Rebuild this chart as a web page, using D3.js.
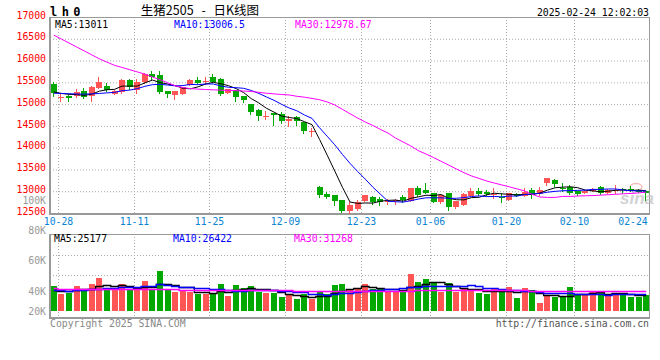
<!DOCTYPE html>
<html>
<head>
<meta charset="utf-8">
<script src="https://cdn.jsdelivr.net/npm/d3@7"></script>
<style>
  body { margin: 0; background: #fff; }
  svg { display: block; }
  text { font-family: "DejaVu Sans Mono", monospace; font-size: 9.8px; }
</style>
</head>
<body>
<svg id="chart" width="660" height="360"></svg>
<script>
// trading days shown on the chart
const dates = [
  "10-28","10-29","10-30","10-31","11-01","11-04","11-05","11-06","11-07","11-08",
  "11-11","11-12","11-13","11-14","11-15","11-18","11-19","11-20","11-21","11-22",
  "11-25","11-26","11-27","11-28","11-29","12-02","12-03","12-04","12-05","12-06",
  "12-09","12-10","12-11","12-12","12-13","12-16","12-17","12-18","12-19","12-20",
  "12-23","12-24","12-25","12-26","12-27","12-30","12-31","01-02","01-03","01-06",
  "01-07","01-08","01-09","01-10","01-13","01-14","01-15","01-16","01-17","01-20",
  "01-21","01-22","01-23","01-24","01-27","02-05","02-06","02-07","02-10","02-11",
  "02-12","02-13","02-14","02-17","02-18","02-19","02-20","02-21","02-24"
]

const opens = [
  15462,15150,15192,15177,15308,15177,15369,15423,15246,15269,
  15554,15323,15500,15692,15669,15292,15215,15231,15446,15562,
  15530,15615,15577,15246,15323,15177,15000,14870,14725,14785,
  14770,14610,14693,14600,14380,13093,12939,12908,12800,12540,
  12601,12770,12870,12832,12765,12780,12862,12785,13077,13039,
  12962,12755,12962,12631,12693,12908,13016,12978,12935,12870,
  12808,12939,12885,13039,12939,13170,13247,13070,13093,13000,
  12962,13016,13093,12978,13010,13045,13062,13039,13010
]
const highs = [
  15500,15231,15215,15346,15362,15408,15631,15485,15330,15577,
  15577,15577,15715,15769,15769,15308,15310,15400,15577,15615,
  15615,15692,15590,15346,15323,15177,15000,14885,14846,14785,
  14808,14731,14731,14600,14462,13116,12985,12924,12800,12755,
  12808,12924,12885,12862,12832,12832,12908,13080,13116,13193,
  12962,12920,12970,12780,12950,13077,13077,13039,13077,12962,
  12970,12950,13077,13077,13093,13308,13270,13193,13154,13010,
  13020,13070,13116,13045,13139,13077,13116,13050,13016
]
const lows = [
  15177,15062,15062,15170,15131,15077,15369,15292,15230,15260,
  15346,15246,15490,15577,15246,15154,15116,15231,15446,15477,
  15462,15500,15215,15246,15062,15039,14770,14631,14669,14516,
  14577,14500,14516,14346,14270,12862,12846,12693,12524,12500,
  12578,12770,12716,12678,12709,12709,12755,12770,12885,12962,
  12755,12740,12578,12620,12680,12900,12924,12908,12847,12755,
  12800,12880,12880,12847,12924,13154,13116,13016,12939,12915,
  12955,13010,12939,12970,12962,12962,13000,12980,12808
]
const closes = [
  15246,15160,15154,15269,15177,15385,15500,15323,15308,15554,
  15385,15500,15692,15631,15269,15215,15308,15400,15562,15500,
  15540,15500,15231,15346,15169,15077,14808,14731,14735,14731,
  14616,14654,14600,14385,14385,12908,12862,12770,12540,12678,
  12755,12908,12755,12755,12775,12790,12785,13077,12924,12962,
  12755,12908,12631,12770,12939,13016,12947,12924,12945,12862,
  12962,12885,12985,12924,13039,13293,13154,13062,12962,12931,
  13016,13062,12962,13039,13030,13040,13020,12995,12970
]

const ma5 = [
  15280,15245,15225,15218,15201,15229,15297,15331,15339,15414,
  15414,15414,15488,15552,15495,15461,15423,15365,15351,15397,
  15462,15500,15467,15423,15357,15265,15126,15026,14904,14816,
  14724,14693,14667,14597,14528,14186,13828,13462,13093,12752,
  12721,12730,12727,12770,12790,12797,12772,12836,12870,12908,
  12901,12925,12836,12805,12801,12853,12861,12919,12954,12939,
  12928,12916,12928,12924,12959,13025,13079,13094,13102,13080,
  13025,13007,12987,13002,13022,13027,13018,13025,13011
]
const ma10 = [
  15250,15245,15238,15232,15230,15235,15245,15258,15270,15308,
  15322,15356,15409,15446,15455,15438,15419,15426,15452,15446,
  15462,15462,15416,15387,15377,15363,15313,15246,15164,15087,
  14994,14910,14847,14751,14672,14455,14261,14065,13845,13640,
  13454,13279,13095,12932,12771,12759,12751,12782,12820,12849,
  12849,12849,12836,12838,12854,12877,12893,12878,12880,12870,
  12890,12888,12924,12939,12949,12977,12997,13011,13013,13020,
  13025,13043,13041,13052,13051,13026,13012,13006,13006.5
]
const ma30 = [
  16584,16494,16403,16313,16222,16131,16040,15963,15891,15840,
  15790,15739,15688,15620,15560,15490,15420,15380,15355,15345,
  15335,15328,15320,15315,15310,15300,15290,15270,15250,15235,
  15220,15210,15180,15160,15130,15100,15050,14980,14880,14780,
  14680,14590,14510,14420,14335,14220,14130,14040,13930,13856,
  13773,13686,13600,13512,13425,13351,13293,13234,13188,13144,
  13100,13053,13006,12926,12868,12858,12858,12881,12881,12890,
  12895,12900,12910,12920,12930,12940,12950,12960,12979
]

const volume = [
  40400,27600,29200,40400,34700,43600,53200,34700,34700,43600,
  34700,34700,47900,34700,64400,33500,30800,31900,30800,27600,
  27600,27600,43100,24400,41500,37200,39900,30800,29200,29200,
  22800,26000,18700,26700,18700,29900,26700,41500,43100,35100,
  35100,43100,35100,35100,30800,30800,32400,58600,45800,51100,
  44200,30800,44200,30800,35100,35100,29200,27100,36300,30800,
  37800,21200,36300,33500,13300,25500,22800,22800,38800,26140,
  26700,30800,29200,25500,29200,25500,22800,22800,25585
]
const volMa5 = [
  33000,32500,32000,32800,34460,35100,40220,41320,40180,41960,
  40180,36480,39120,39120,43280,43040,42260,39060,38280,30920,
  29740,29100,31340,30060,32840,34760,37220,34760,35720,33260,
  30380,27600,25180,24680,22580,24000,24140,28700,31980,35260,
  36300,39580,38300,36700,35840,34980,32840,37540,39680,43740,
  46420,46100,43220,40220,37020,35200,34880,31460,32560,31700,
  32240,30640,32480,31920,28420,25960,26280,23580,24640,27208,
  27448,29048,30328,27668,28280,28040,26440,25160,25177
]
const volMa10 = [
  34000,33000,32500,33000,33500,34500,35500,36500,37500,38210,
  37640,38350,40220,39650,42620,41610,39370,39090,38700,37100,
  36390,35680,35200,34170,31880,32250,33160,33050,32890,33050,
  32570,32410,29970,30200,27920,27190,25870,26940,28330,28920,
  30150,31860,33500,34340,35550,35640,36210,37920,38190,39790,
  40700,39470,40380,39950,40380,40810,40490,37340,36390,34360,
  33720,32760,31970,32240,30060,29100,28460,28030,28280,27814,
  26704,27664,26954,26154,27744,27744,27744,27744,26422
]
const volMa30 = [
  36000,35800,35700,35500,35400,35300,35200,35100,35000,34900,
  34800,34700,34700,34600,34600,34500,34400,34300,34200,34100,
  34000,33900,33800,33700,33600,33500,33400,33300,33200,33100,
  33000,32800,32500,32200,31900,31600,31300,31200,31300,31500,
  31700,31900,32000,32100,32200,32300,32400,32700,33000,33200,
  33400,33500,33600,33600,33600,33700,33700,33600,33500,33400,
  33300,33100,32900,32700,32400,32200,32000,31800,31700,31600,
  31500,31400,31400,31300,31300,31300,31300,31270,31268
]

const priceTicks = [17000, 16500, 16000, 15500, 15000, 14500, 14000, 13500, 13000, 12500]
const volTicks = [100000, 80000, 60000, 40000, 20000]
const dateTicks = ["10-28", "11-11", "11-25", "12-09", "12-23", "01-06", "01-20", "02-10", "02-24"]
const maLabels = ["MA5:13011", "MA10:13006.5", "MA30:12978.67"]
const volMaLabels = ["MA5:25177", "MA10:26422", "MA30:31268"]

const red = "#ff5555", green = "#00a800"
const maColors = ["#000000", "#0000ff", "#ff00ff"]
const gridColor = "#aaa", borderColor = "#999"

let svg = d3.select("#chart")
let plotL = 50, plotR = 650, plotT = 17, plotB = 213
let vTop = 234, vBase = 311, vBottom = 318

svg.append("rect").attr("width", 660).attr("height", 360).style("fill", "#fff")

let x = d3.scaleBand()
  .domain(dates)
  .range([plotL, plotR])
  .paddingInner(0.2)
  .paddingOuter(0.1)

let y = d3.scaleLinear().domain([12500, 17000]).range([plotB, plotT])
let yv = d3.scaleLinear().domain([0, 123000]).range([vBase, vTop])
// volume axis labels sit on their own spacing in the original
let yvLabel = d3.scaleLinear().domain([40000, 100000]).range([291, 200])

let cx = d => Math.round(x(d)) + 2.5
let gridX = d => Math.round(x(d) + x.step() * 0.9) + 0.5

// horizontal grid, price panel
let yGrid = svg.append("g")
  .attr("transform", `translate(${plotL},0)`)
  .call(d3.axisLeft(y).tickValues(priceTicks.slice(1, -1)).tickSize(-(plotR - plotL)).tickFormat(""))
yGrid.select(".domain").remove()
yGrid.selectAll("line")
  .style("stroke", gridColor)
  .style("stroke-dasharray", "1,2")

// horizontal grid, volume panel
svg.append("g").selectAll("line")
  .data([1, 2])
  .join("line")
  .attr("x1", plotL).attr("x2", plotR)
  .attr("y1", k => 235.5 + 20 * k).attr("y2", k => 235.5 + 20 * k)
  .style("stroke", gridColor)
  .style("stroke-dasharray", "1,2")

// vertical grid
let vTicks = dateTicks.filter(d => gridX(d) < plotR - 2)
svg.append("g").selectAll("line")
  .data(vTicks)
  .join("line")
  .attr("x1", gridX).attr("x2", gridX)
  .attr("y1", plotT).attr("y2", plotB)
  .style("stroke", gridColor)
  .style("stroke-dasharray", "1,2")
svg.append("g").selectAll("line")
  .data(vTicks)
  .join("line")
  .attr("x1", gridX).attr("x2", gridX)
  .attr("y1", vTop).attr("y2", vBottom + 2)
  .style("stroke", gridColor)
  .style("stroke-dasharray", "1,2")

// borders
let borders = svg.append("g").style("stroke", borderColor).style("shape-rendering", "crispEdges")
borders.append("line").attr("x1", plotL).attr("x2", plotR).attr("y1", plotT + 0.5).attr("y2", plotT + 0.5)
borders.append("line").attr("x1", plotR - 0.5).attr("x2", plotR - 0.5).attr("y1", plotT).attr("y2", plotB)
borders.append("line").attr("x1", plotL).attr("x2", plotL).attr("y1", plotT).attr("y2", plotB + 2).style("stroke-width", 2)
borders.append("line").attr("x1", plotL).attr("x2", plotR).attr("y1", plotB + 1).attr("y2", plotB + 1).style("stroke-width", 2)
borders.append("line").attr("x1", plotL).attr("x2", plotR).attr("y1", vTop + 0.5).attr("y2", vTop + 0.5)
borders.append("line").attr("x1", plotR - 0.5).attr("x2", plotR - 0.5).attr("y1", vTop).attr("y2", vBottom)
borders.append("line").attr("x1", plotL).attr("x2", plotL).attr("y1", vTop).attr("y2", vBottom + 1).style("stroke-width", 2)
borders.append("line").attr("x1", plotL).attr("x2", plotR).attr("y1", vBottom).attr("y2", vBottom).style("stroke-width", 2)

// watermark
let mark = svg.append("g").style("opacity", 0.75)
mark.append("ellipse")
  .attr("cx", 636).attr("cy", 187).attr("rx", 6).attr("ry", 3.5)
  .style("fill", "none").style("stroke", "#f2a9a9").style("stroke-width", 1.5)
mark.append("text")
  .attr("x", 620).attr("y", 204)
  .style("font-family", "'Liberation Sans', Arial, sans-serif")
  .style("font-size", "17px")
  .style("font-weight", "bold")
  .style("font-style", "italic")
  .style("fill", "#c4c4c4")
  .text("sina")

let idx = d3.range(dates.length)
let up = i => closes[i] >= opens[i]

// candles
let candles = svg.append("g").style("shape-rendering", "crispEdges")
candles.selectAll("line")
  .data(idx)
  .join("line")
  .attr("x1", i => cx(dates[i])).attr("x2", i => cx(dates[i]))
  .attr("y1", i => Math.round(y(highs[i])))
  .attr("y2", i => Math.round(y(lows[i])) + 1)
  .style("stroke", i => up(i) ? red : green)
candles.selectAll("rect")
  .data(idx)
  .join("rect")
  .attr("x", i => Math.round(x(dates[i])))
  .attr("width", 6)
  .attr("y", i => Math.round(y(Math.max(opens[i], closes[i]))))
  .attr("height", i => Math.max(1, Math.round(Math.abs(y(opens[i]) - y(closes[i])))))
  .style("fill", i => up(i) ? red : green)

// price moving averages
let line = d3.line()
  .x((d, i) => x(dates[i]) + x.bandwidth() / 2)
  .y(d => y(d))
svg.append("g").selectAll("path")
  .data([ma5, ma10, ma30])
  .join("path")
  .attr("d", d => line(d))
  .style("fill", "none")
  .style("stroke", (d, k) => maColors[k])
  .style("stroke-width", 1)

// volume bars
svg.append("g").style("shape-rendering", "crispEdges")
  .selectAll("rect")
  .data(idx)
  .join("rect")
  .attr("x", i => Math.round(x(dates[i])))
  .attr("width", 6)
  .attr("y", i => Math.round(yv(volume[i])))
  .attr("height", i => vBase - Math.round(yv(volume[i])))
  .style("fill", i => up(i) ? red : green)

// volume moving averages
let vline = d3.line()
  .x((d, i) => x(dates[i]) + x.bandwidth() / 2)
  .y(d => Math.round(yv(d)) + 0.5)
  .curve(d3.curveStep)
svg.append("g").selectAll("path")
  .data([volMa5, volMa10, volMa30])
  .join("path")
  .attr("d", d => vline(d))
  .style("fill", "none")
  .style("stroke", (d, k) => maColors[k])
  .style("stroke-width", 1.3)

// price axis labels
let yAxis = svg.append("g")
  .attr("transform", `translate(${plotL},0)`)
  .call(d3.axisLeft(y).tickValues(priceTicks).tickSize(0).tickPadding(4).tickFormat(d3.format("d")))
yAxis.select(".domain").remove()
yAxis.selectAll("text")
  .attr("dy", "0.12em")
  .style("fill", "#ff0000")
  .style("font-family", "'DejaVu Sans Mono', monospace")
  .style("font-size", "9.8px")

// volume axis labels
svg.append("g").selectAll("text")
  .data(volTicks)
  .join("text")
  .attr("x", plotL - 4)
  .attr("y", d => Math.min(vBase, yvLabel(d)) + 3.5)
  .attr("text-anchor", "end")
  .style("fill", "#999")
  .text(d => d / 1000 + "K")

// date labels
svg.append("g").selectAll("text")
  .data(dateTicks)
  .join("text")
  .attr("x", d => Math.min(gridX(d), plotR - 2 - 15))
  .attr("y", plotB + 12)
  .attr("text-anchor", "middle")
  .style("fill", "#0a84d2")
  .text(d => d)

// legends
let legendX = [55, 174, 295]
svg.append("g").selectAll("text")
  .data(maLabels)
  .join("text")
  .attr("x", (d, k) => legendX[k])
  .attr("y", 27.5)
  .style("fill", (d, k) => maColors[k])
  .text(d => d)
svg.append("g").selectAll("text")
  .data(volMaLabels)
  .join("text")
  .attr("x", (d, k) => legendX[k] - 1)
  .attr("y", 241.5)
  .style("fill", (d, k) => maColors[k])
  .text(d => d)

// header
svg.append("text")
  .attr("x", 50)
  .attr("y", 16)
  .style("font-size", "12px")
  .style("font-weight", "bold")
  .style("letter-spacing", "-1.4px")
  .style("fill", "#000")
  .text("l h 0")

svg.append("text")
  .attr("x", 200)
  .attr("y", 15)
  .attr("text-anchor", "middle")
  .style("font-family", "'Noto Sans CJK SC', sans-serif")
  .style("font-size", "12.5px")
  .style("word-spacing", "5px")
  .style("fill", "#000")
  .text("生猪2505 - 日K线图")

svg.append("text")
  .attr("x", plotR - 1)
  .attr("y", 16)
  .attr("text-anchor", "end")
  .style("fill", "#000")
  .text("2025-02-24 12:02:03")

// footer
svg.append("text")
  .attr("x", 50)
  .attr("y", 327)
  .style("fill", "#888")
  .text("Copyright 2025 SINA.COM")

svg.append("text")
  .attr("x", plotR - 1)
  .attr("y", 327)
  .attr("text-anchor", "end")
  .style("fill", "#555")
  .text("http://finance.sina.com.cn")
</script>
</body>
</html>
